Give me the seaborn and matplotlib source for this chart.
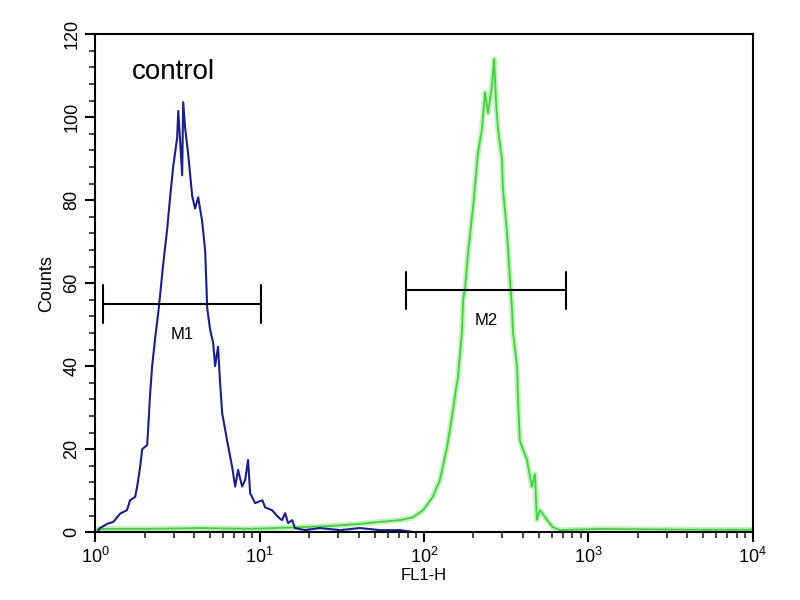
import pandas as pd
import matplotlib.pyplot as plt
import seaborn as sns
from matplotlib.ticker import MultipleLocator, LogLocator, NullFormatter

# ---------------------------------
# Histogram data
# ---------------------------------

control_fl1 = [1.03, 1.07, 1.18, 1.29, 1.42, 1.56, 1.63, 1.75, 1.80, 1.88,
               1.93, 2.07, 2.10, 2.16, 2.22, 2.32, 2.42, 2.48, 2.59, 2.74,
               2.86, 2.98, 3.15, 3.20, 3.29, 3.38, 3.43, 3.52, 3.68, 3.89,
               4.05, 4.23, 4.47, 4.67, 4.80, 5.00, 5.22, 5.36, 5.59, 5.75,
               5.92, 6.35, 6.81, 7.10, 7.40, 7.83, 8.17, 8.51, 8.76, 9.39,
               10.4, 10.8, 11.9, 13.0, 13.7, 14.3, 14.9, 15.8, 16.4, 18.9,
               23.3, 30.9, 40.8, 54.0, 71.5, 88.0, 290.0, 9860.0]
control_counts = [0, 1, 2, 2.5, 4.5, 5.3, 7.7, 8.5, 11, 16,
                  20, 21, 25, 33.6, 40, 47, 53, 57, 64.5, 73,
                  81, 88, 95, 101.5, 94, 86, 103.6, 97.6, 91, 81,
                  78, 80.7, 75, 67.6, 54, 48.8, 45.6, 40, 44.7, 36,
                  28.7, 22, 15.7, 11, 15, 11, 12.6, 17.4, 9.4, 7,
                  7.7, 6, 5.3, 3.6, 2.9, 4.6, 2.2, 2.9, 1, 0.5,
                  1, 0.5, 1, 0.5, 0.5, 0, 0, 0]

sample_fl1 = [1.03, 2.16, 4.35, 8.76, 17.6, 26.8, 40.8, 54.0, 71.5, 85.7,
              98.6, 113, 125, 138, 148, 154, 161, 170, 173, 178,
              185, 199, 213, 225, 235, 245, 259, 267, 274, 282,
              298, 302, 320, 333, 343, 348, 368, 373, 383, 423,
              453, 473, 486, 507, 559, 608, 671, 1175, 4760, 9860]
sample_counts = [0.8, 0.8, 1.0, 0.8, 1.2, 1.5, 2.0, 2.5, 2.9, 3.6,
                 5.3, 8.5, 12.6, 20.5, 27.8, 32.6, 37.4, 48, 56, 59,
                 67, 78.5, 91.5, 97, 106, 101, 107.5, 114, 104, 97,
                 90, 83, 72, 61, 54, 48, 40, 32, 22, 17.4,
                 11, 14, 3, 5.3, 3, 1.2, 0.5, 0.8, 0.6, 0.6]

# marker gates: (name, left, right, level)
gate_names = ["M1", "M2"]
gate_left = [1.12, 77.6]
gate_right = [10.2, 730.0]
gate_level = [55.0, 58.3]

control_df = pd.DataFrame({"FL1-H": control_fl1, "Counts": control_counts})
sample_df = pd.DataFrame({"FL1-H": sample_fl1, "Counts": sample_counts})

sns.set_style("ticks")
plt.rcParams["font.family"] = ["Liberation Sans", "DejaVu Sans"]
plt.rcParams["mathtext.default"] = "regular"
plt.rcParams["text.color"] = "black"
plt.rcParams["axes.labelcolor"] = "black"

fig = plt.figure(figsize=(8, 6), dpi=100)
ax = fig.add_axes([0.119, 0.113, 0.822, 0.830])

# soft glow under the green trace
sns.lineplot(data=sample_df, x="FL1-H", y="Counts", ax=ax,
             color="#c4f2bc", linewidth=4, sort=True)
sns.lineplot(data=sample_df, x="FL1-H", y="Counts", ax=ax,
             color="#44d044", linewidth=1.3, sort=True)
sns.lineplot(data=control_df, x="FL1-H", y="Counts", ax=ax,
             color="#1e1e88", linewidth=1.5, sort=True)

# gates M1 / M2
for name, lo, hi, lvl in zip(gate_names, gate_left, gate_right, gate_level):
    ax.plot([lo, hi], [lvl, lvl], color="black", linewidth=1.5)
    ax.plot([lo, lo], [lvl - 4.5, lvl + 4.5], color="black", linewidth=1.5)
    ax.plot([hi, hi], [lvl - 4.5, lvl + 4.5], color="black", linewidth=1.5)
    mid = (lo * hi) ** 0.5
    ax.text(mid, lvl - 5.5, name, ha="center", va="top", fontsize=12)

ax.text(2.98, 111, "control", ha="center", va="center", fontsize=20)

ax.set_xscale("log")
ax.set_xlim(1, 10000)
ax.set_ylim(0, 120)

ax.xaxis.set_major_locator(LogLocator(base=10, numticks=10))
ax.xaxis.set_minor_locator(LogLocator(base=10, subs=range(2, 10), numticks=50))
ax.xaxis.set_minor_formatter(NullFormatter())
ax.yaxis.set_major_locator(MultipleLocator(20))
ax.yaxis.set_minor_locator(MultipleLocator(4))

ax.tick_params(which="major", direction="out", length=7, width=1.5,
               labelsize=13, colors="black")
ax.tick_params(which="minor", direction="out", length=4, width=1.2)
ax.tick_params(axis="y", labelrotation=90)
for lab in ax.get_yticklabels():
    lab.set_va("center")

for sp in ax.spines.values():
    sp.set_linewidth(1.5)
    sp.set_color("black")

ax.set_xlabel("FL1-H", fontsize=12, labelpad=1)
ax.set_ylabel("Counts", fontsize=13, labelpad=6)

fig.savefig("out.png", dpi=100)
